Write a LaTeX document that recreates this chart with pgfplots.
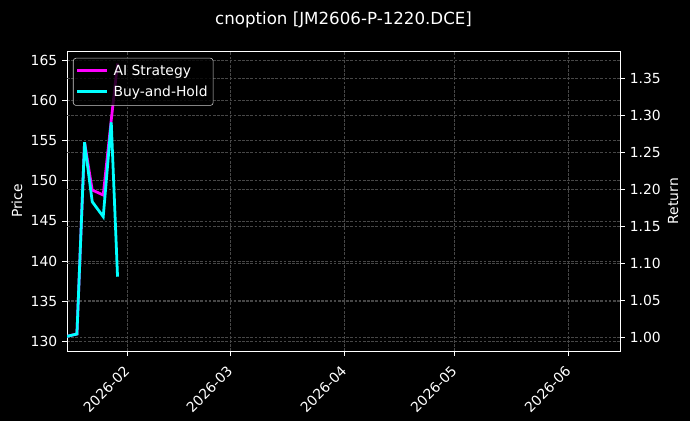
\documentclass[border=0pt]{standalone}
\usepackage{fontspec}
\setmainfont{DejaVu Sans}
\usepackage{pgfplots}
\pgfplotsset{compat=1.18}

\definecolor{aimag}{HTML}{FF00FF}
\definecolor{bhcyan}{HTML}{00FFFF}
\definecolor{gridc}{HTML}{474747}

% x = days since 2026-01-01
\pgfplotstableread{
day   ret
14.0  1.0005
17.4  1.0045
19.47 1.2635
21.56 1.1990
24.55 1.1923
26.73 1.2937
28.44 1.3700
}\aistrat
\pgfplotstableread{
day   ret
14.0  1.0005
17.4  1.0045
19.47 1.2635
21.56 1.1832
24.55 1.1630
26.73 1.2905
28.44 1.0819
}\buyhold

\pgfplotsset{
  base/.style={
    scale only axis,
    width=398.2pt, height=216pt,
    at={(0,0)}, anchor=south west,
    xmin=14.7, xmax=165.06,
    axis line style={white, line width=0.6pt},
    tick style={white, line width=0.6pt},
    tick align=outside,
    major tick length=3.5pt,
    ticklabel style={white, font=\fontsize{10}{12}\selectfont},
    label style={white, font=\fontsize{10}{12}\selectfont},
    /pgf/number format/assume math mode=true,
    grid style={gridc, line width=0.45pt, dash pattern=on 2pt off 1pt},
  },
}

\begin{document}
\begin{tikzpicture}
\fill[black] (-48.24pt,-50.4pt) rectangle (448.56pt,252.72pt);
\useasboundingbox (-48.24pt,-50.4pt) rectangle (448.56pt,252.72pt);

\begin{axis}[
  base,
  ymin=128.84, ymax=166.12,
  ytick={130,135,...,165},
  ytick pos=left,
  xtick pos=bottom,
  xtick={31,59,90,120,151},
  xticklabels={2026-02,2026-03,2026-04,2026-05,2026-06},
  xticklabel style={rotate=45, anchor=north east, inner sep=1pt,
    xshift=-5.5pt, yshift=-1.5pt},
  xmajorgrids=true, ymajorgrids=true,
  ylabel={Price},
  ylabel style={at={(axis description cs:-0.0905,0.5)}, anchor=center},
]
\end{axis}

\begin{axis}[
  base,
  ymin=0.9815, ymax=1.3869,
  axis y line*=right,
  axis x line=none,
  ytick={1.00,1.05,...,1.36},
  yticklabel style={/pgf/number format/.cd, fixed, fixed zerofill, precision=2},
  ymajorgrids=true,
  ylabel={Return},
  ylabel style={at={(axis description cs:1.0958,0.5)}, anchor=center},
  legend style={
    at={(axis description cs:0.0108,0.977)}, anchor=north west,
    fill=black, fill opacity=0.8, draw opacity=1, text opacity=1,
    draw=white!80!black, rounded corners=2pt,
    text=white, font=\fontsize{10}{12}\selectfont,
    inner xsep=2pt, inner ysep=3pt, row sep=2pt,
  },
  legend cell align=left,
  legend image code/.code={%
    \draw[#1, line width=2pt, draw opacity=1] (0pt,0.6pt) -- (21pt,0.6pt);
    \path (23pt,0pt);},
  title={cnoption [JM2606-P-1220.DCE]},
  title style={at={(axis description cs:0.5,1.077)}, anchor=center,
    white, font=\fontsize{12}{14}\selectfont},
]
\addplot[aimag, line width=2pt] table[x=day, y=ret] {\aistrat};
\addlegendentry{AI Strategy}
\addplot[bhcyan, line width=2pt] table[x=day, y=ret] {\buyhold};
\addlegendentry{Buy-and-Hold}
\end{axis}
\end{tikzpicture}
\end{document}
